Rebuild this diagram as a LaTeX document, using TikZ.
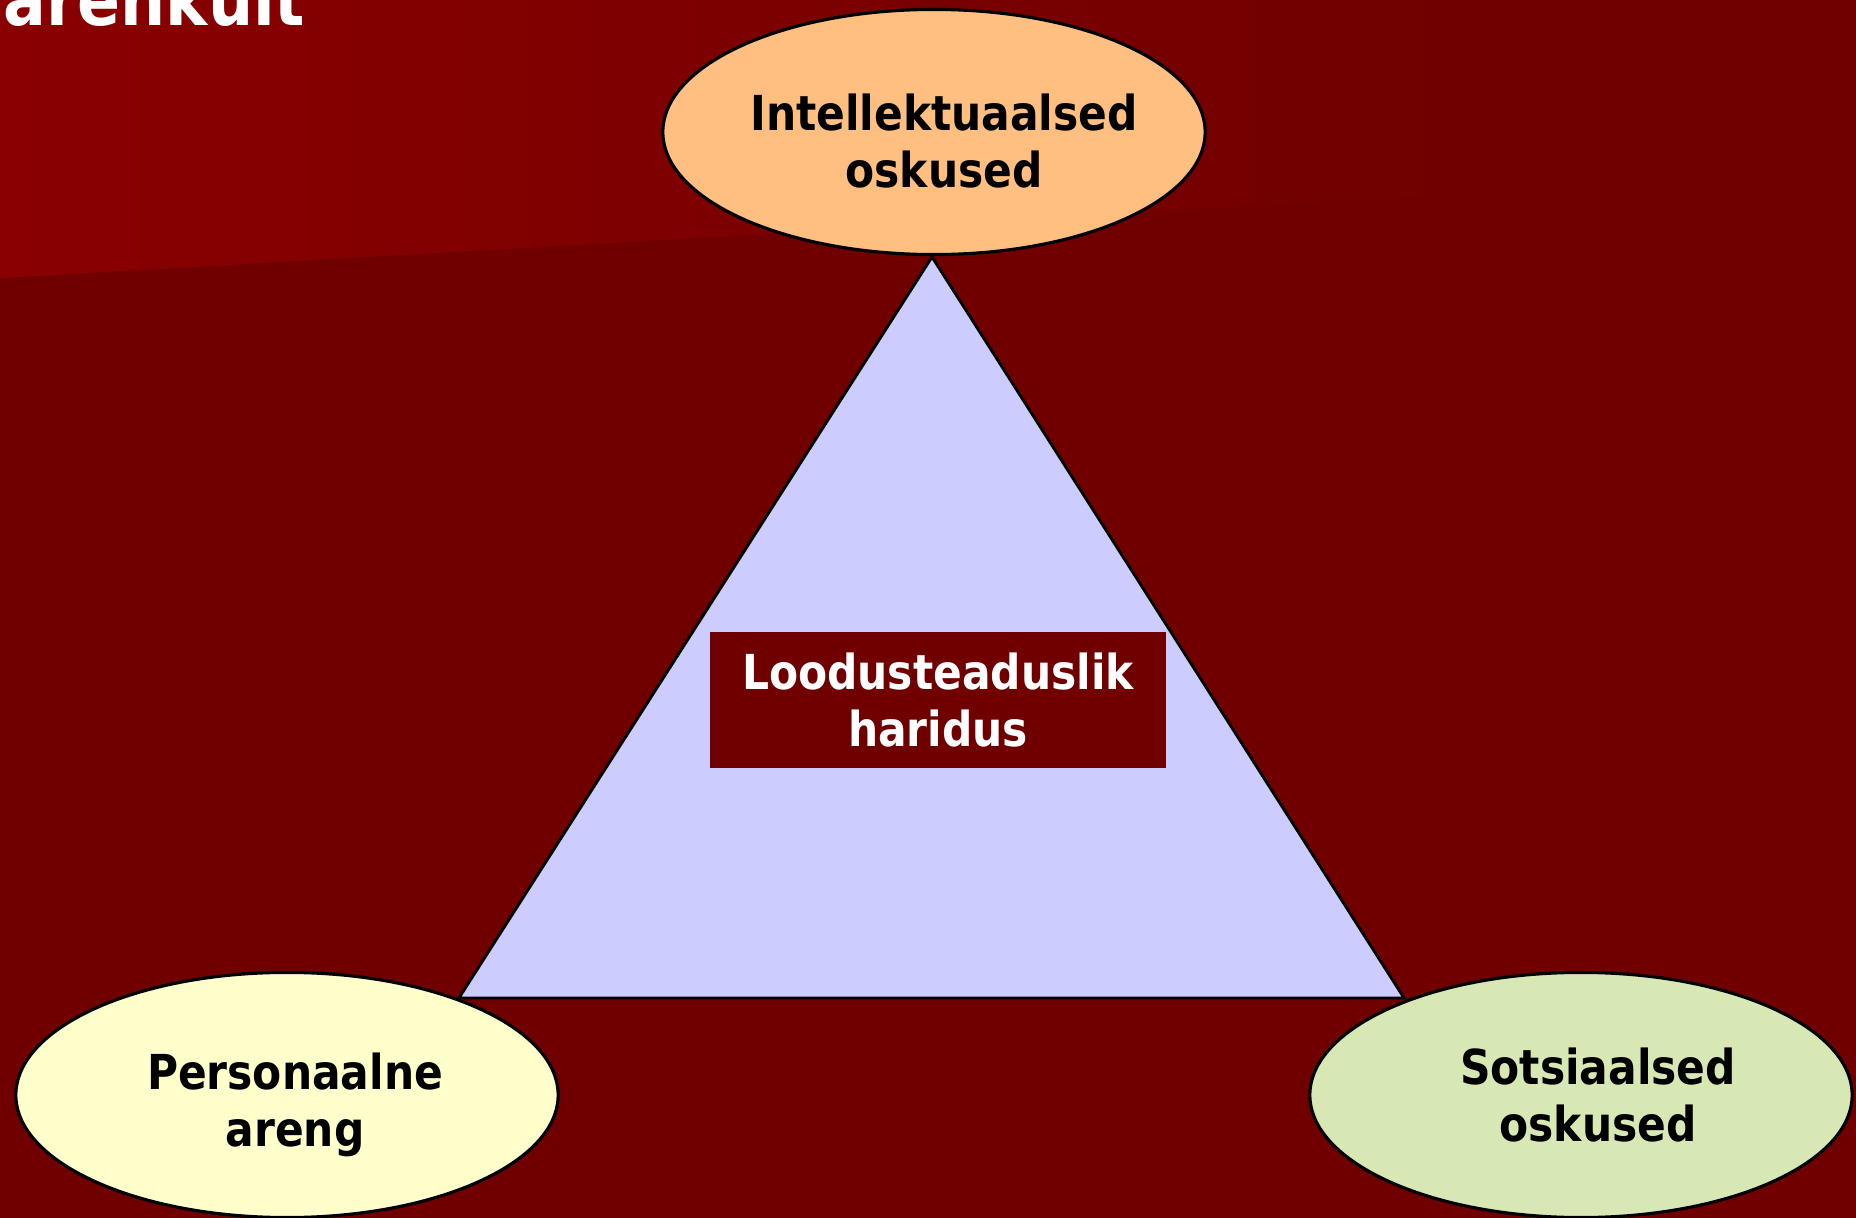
\documentclass[tikz,border=0pt]{standalone}
\usepackage{fontspec}
\setmainfont{DejaVu Sans}[FakeStretch=0.88]
\usetikzlibrary{shapes.geometric}

\definecolor{bgred}{HTML}{700000}
\definecolor{hired}{HTML}{8A0000}
\definecolor{apricot}{HTML}{FFBF80}
\definecolor{cream}{HTML}{FFFFCC}
\definecolor{sage}{HTML}{D7E8B4}
\definecolor{lilac}{HTML}{CCCCFF}

\tikzset{
  skill/.style={ellipse, draw=black, line width=0.9pt, minimum width=5.42cm,
    minimum height=2.45cm, inner sep=0pt},
  skilltext/.style={align=center, inner sep=0pt,
    font=\fontsize{13.7pt}{16.2pt}\selectfont\bfseries},
  core/.style={fill=bgred, text=white, minimum width=4.55cm, minimum height=1.35cm,
    align=center, inner sep=0pt, font=\fontsize{13.7pt}{16.2pt}\selectfont\bfseries}
}

\begin{document}
\begin{tikzpicture}[x=0.01cm, y=-0.01cm]
        \clip (0,0) rectangle (1856,1218);
        % Background
        \fill[bgred] (0,0) rectangle (1856,1218);
        \shade[left color=hired, right color=bgred] (0,0) -- (1450,0) -- (1450,195) -- (0,278) -- cycle;
        \node[anchor=base east, text=white, inner sep=0pt,
          font=\fontsize{20.5pt}{24pt}\selectfont\bfseries] (title) at (306,25) {arenkult};
        % Triangle
        \draw[fill=lilac, line width=0.8pt] (932,257) -- (1404,998) -- (459,998) -- cycle;
        \node[core] (edu) at (938,700) {Loodusteaduslik\\haridus};
        % Three skills
        \node[skill, fill=apricot, label={[skilltext, xshift=0.1cm, yshift=-0.09cm]center:Intellektuaalsed\\oskused}] (intel) at (934,132) {};
        \node[skill, fill=cream, label={[skilltext, xshift=0.08cm, yshift=-0.1cm]center:Personaalne\\areng}] (pers) at (287,1095) {};
        \node[skill, fill=sage, label={[skilltext, xshift=0.17cm]center:Sotsiaalsed\\oskused}] (soc) at (1581,1095) {};
\end{tikzpicture}
\end{document}
